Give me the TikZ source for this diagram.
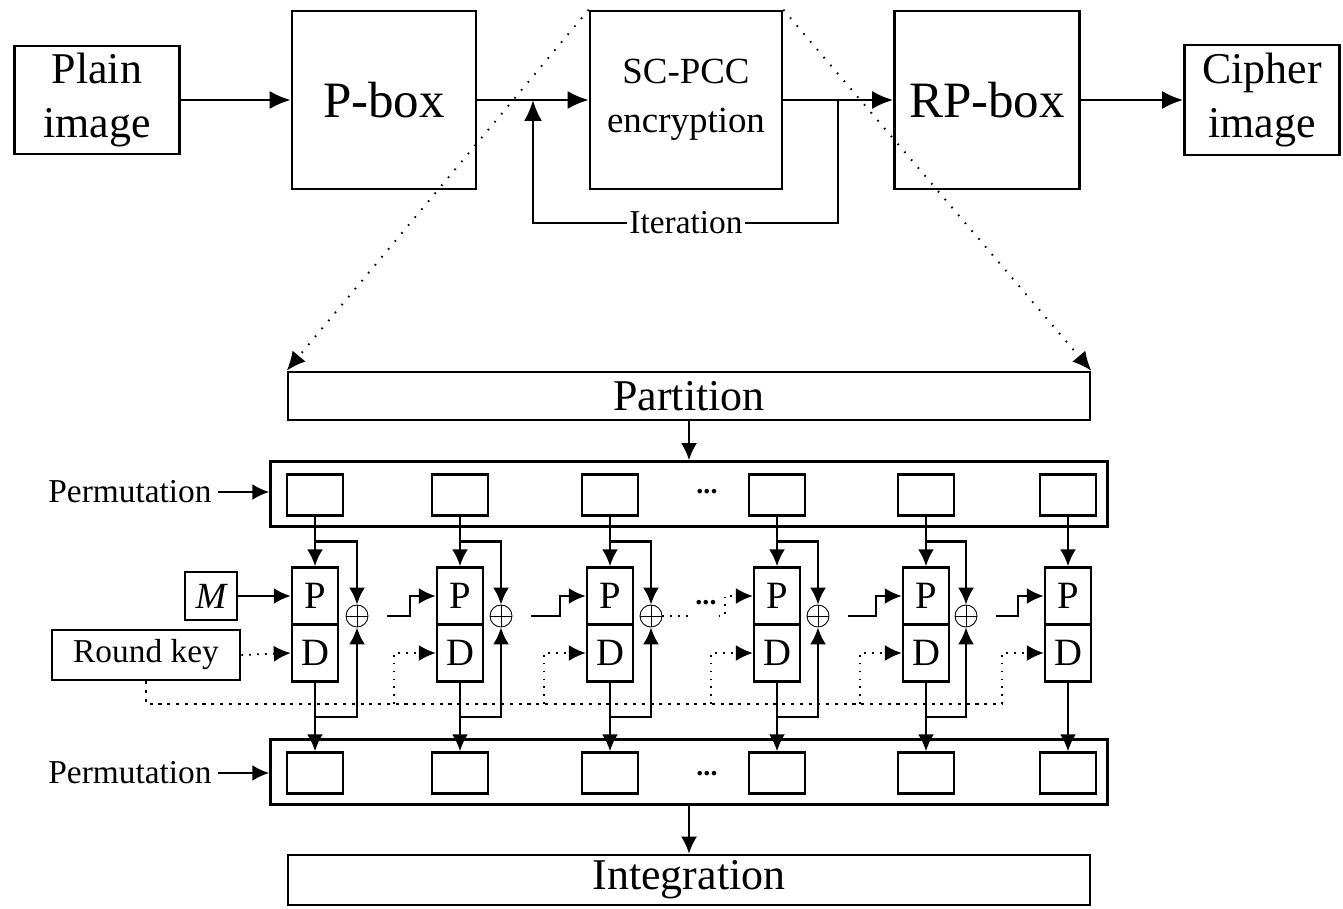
\documentclass[tikz,border=0pt]{standalone}
\usepackage{fontspec}
\setmainfont{Liberation Serif}
\usetikzlibrary{arrows.meta, positioning, calc}

\begin{document}
\begin{tikzpicture}[x=0.02cm, y=-0.02cm,
        blk/.style={rectangle, draw, line width=1.5pt, align=center, inner sep=0pt},
        cell/.style={rectangle, draw, line width=1.4pt, minimum width=1.12cm, minimum height=0.82cm},
        pdbox/.style={rectangle, draw, line width=1.4pt, minimum width=0.92cm, minimum height=1.14cm, inner sep=0pt, font=\fontsize{22}{24}\selectfont},
        xorn/.style={circle, draw, line width=0.5pt, minimum size=0.44cm, inner sep=0pt,
            path picture={\draw[line width=0.5pt] (path picture bounding box.north) -- (path picture bounding box.south)
                (path picture bounding box.west) -- (path picture bounding box.east);}},
        arrowline/.style={-{Latex[length=0.42cm, width=0.36cm]}, line width=1.4pt},
        arr/.style={-{Latex[length=0.34cm, width=0.32cm]}, line width=1.3pt},
        zoomline/.style={line width=1.1pt, dash pattern=on 0.9pt off 5pt, -{Latex[length=0.38cm, width=0.34cm]}},
        keyline/.style={line width=1.6pt, dash pattern=on 1.8pt off 3.2pt},
        feed/.style={line width=1pt, dash pattern=on 1pt off 3.5pt},
        dotsl/.style={font=\bfseries\fontsize{16}{16}\selectfont, inner sep=1pt}
    ]
        \useasboundingbox (0,0) rectangle (1343,909);

        % top row
        \node[blk, minimum width=3.3cm, minimum height=2.16cm, font=\fontsize{25}{31}\selectfont] (plain) at (97,100) {Plain\\image};
        \node[blk, minimum width=3.68cm, minimum height=3.56cm, font=\fontsize{29}{32}\selectfont] (pbox) at (384,100) {P-box};
        \node[blk, minimum width=3.84cm, minimum height=3.56cm, font=\fontsize{21}{28}\selectfont] (scpcc) at (686,100) {SC-PCC\\encryption};
        \node[blk, minimum width=3.7cm, minimum height=3.56cm, font=\fontsize{29}{32}\selectfont] (rpbox) at (987,100) {RP-box};
        \node[blk, minimum width=3.1cm, minimum height=2.2cm, font=\fontsize{25}{31}\selectfont] (cipher) at (1262,100) {Cipher\\image};
        \draw[arrowline] (plain.east) -- (pbox.west);
        \draw[arrowline] (pbox.east) -- (scpcc.west);
        \draw[arrowline] (scpcc.east) -- (rpbox.west);
        \draw[arrowline] (rpbox.east) -- (cipher.west);

        % iteration loop
        \coordinate (loopR) at (838,100);
        \coordinate (loopL) at (533,100);
        \node[fill=white, inner sep=1pt, font=\fontsize{19}{20}\selectfont] (iter) at (686,223) {Iteration};
        \draw[line width=1.4pt] (loopR) |- (iter.east);
        \draw[arrowline] (iter.west) -| (loopL);

        % partition / permutation / integration
        \node[blk, minimum width=16.04cm, minimum height=0.96cm, font=\fontsize{25}{28}\selectfont] (part) at (689,396) {Partition};
        \node[blk, minimum width=16.74cm, minimum height=1.3cm] (ptop) at (689,494) {};
        \node[blk, minimum width=16.74cm, minimum height=1.3cm] (pbot) at (689,772) {};
        \node[blk, minimum width=16.04cm, minimum height=1.0cm, font=\fontsize{25}{28}\selectfont] (integ) at (689,880) {Integration};
        \draw[zoomline] (scpcc.north west) -- (part.north west);
        \draw[zoomline] (scpcc.north east) -- (part.north east);
        \draw[arr] (part.south) -- (ptop.north);
        \draw[arr] (pbot.south) -- (integ.north);

        \node[font=\fontsize{19}{20}\selectfont] (perm1) at (130,492) {Permutation};
        \node[font=\fontsize{19}{20}\selectfont] (perm2) at (130,773) {Permutation};
        \draw[arr] (perm1.east) -- (ptop.west |- perm1.east);
        \draw[arr] (perm2.east) -- (pbot.west |- perm2.east);

        \node[dotsl] (dots1) at (707,492) {...};
        \node[dotsl] (dots2) at (707,774) {...};

        % rounds
        \foreach \i/\x in {1/315, 2/460, 3/610, 4/777, 5/926, 6/1068} {
            \node[cell] (ta\i) at (\x,495) {};
            \node[pdbox] (p\i) at (\x,596) {P};
            \node[pdbox] (d\i) at (\x,653) {D};
            \node[cell] (tb\i) at (\x,773) {};
            \draw[arr] (ta\i) -- (p\i);
            \draw[arr] (d\i) -- (tb\i);
        }
        \foreach \i/\x in {1/357, 2/501, 3/651, 4/818, 5/966} {
            \node[xorn] (x\i) at (\x,616) {};
            \draw[arr] ($(ta\i.south)!.5!(p\i.north)$) -| (x\i.north);
            \draw[arr] ($(d\i.south)!.5!(tb\i.north)$) -| (x\i.south);
        }
        \foreach \i/\j in {1/2, 2/3, 4/5, 5/6}
            \draw[arr] (x\i.east) ++(19,0) -- ($(p\j.west |- x\i.east)+(-26,0)$) |- (p\j.west);
        \node[dotsl] (gap) at (706,603) {...};
        \draw[feed] (x3.east) -- (gap.west |- x3.east);
        \draw[arr, feed] (gap.east |- x3.east) -| ++(6,-8) |- (p4.west);

        % M and round key
        \node[blk, minimum width=1.04cm, minimum height=0.96cm, font=\itshape\fontsize{21}{22}\selectfont] (mkey) at (211,596) {M};
        \node[blk, minimum width=3.76cm, minimum height=1.0cm, font=\fontsize{19}{20}\selectfont] (rkey) at (146,655) {Round key};
        \draw[arr] (mkey.east) -- (p1.west);
        \draw[arr, feed] (rkey.east) -- (d1.west);
        \coordinate (kend) at (1003,704);
        \draw[keyline] (rkey.south) |- (kend);
        \foreach \i in {2,...,6} {
            \coordinate (f\i) at ($(d\i.west)+(-42,0)$);
            \draw[arr, feed] (f\i |- kend) -- (f\i) -- (d\i.west);
        }
    \end{tikzpicture}
\end{document}
